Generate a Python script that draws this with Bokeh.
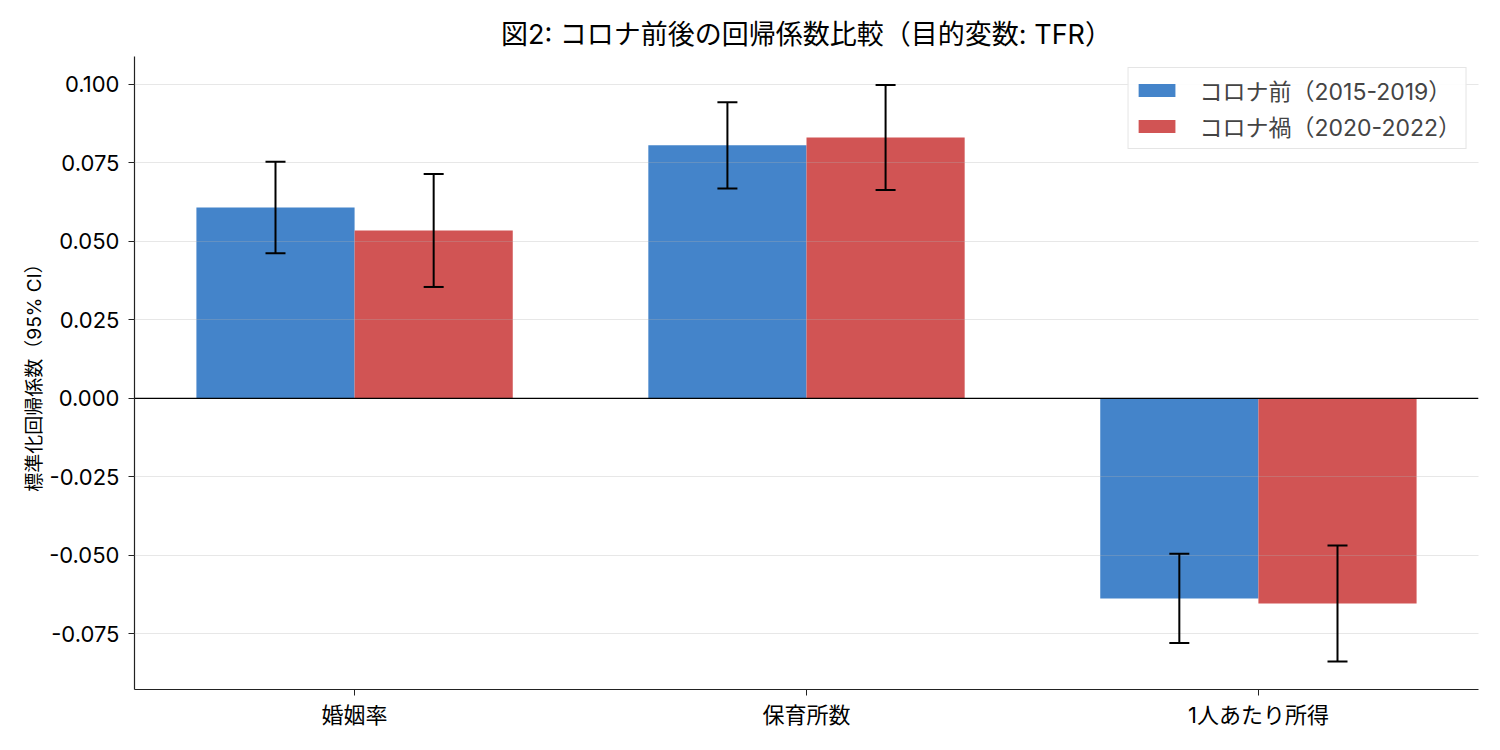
import numpy as np
from bokeh.plotting import figure
from bokeh import models
from bokeh.models import Range1d
from bokeh.embed import file_html
from bokeh.resources import INLINE

# Latin glyphs from Inter, Japanese glyphs fall back to Noto Sans CJK JP.
FONT = "Inter, 'Noto Sans CJK JP'"

# Variables (x categories) and the two periods.
CATEGORIES = ["婚姻率", "保育所数", "1人あたり所得"]
PERIODS = ["コロナ前（2015-2019）", "コロナ禍（2020-2022）"]
COLORS = ["#4484CA", "#D15454"]

# Standardised coefficients and 95% CI half widths.
COEF_PRE = [0.0608, 0.0806, -0.0637]
CI_PRE = [0.0146, 0.0137, 0.0142]
COEF_COVID = [0.0535, 0.0831, -0.0653]
CI_COVID = [0.0180, 0.0167, 0.0185]

Y_TICKS = [-0.075, -0.050, -0.025, 0.0, 0.025, 0.050, 0.075, 0.100]

BAR_WIDTH = 0.35

p = figure(
    width=1492, height=742,
    title="図2: コロナ前後の回帰係数比較（目的変数: TFR）",
    x_range=Range1d(-0.487, 2.487), y_range=Range1d(-0.0927, 0.1089),
    y_axis_label="標準化回帰係数（95% CI）",
    output_backend="svg", toolbar_location=None,
    min_border_left=134, min_border_right=14,
    min_border_top=56, min_border_bottom=53,
)
p.outline_line_color = None
p.background_fill_color = "white"

p.title.align = "center"
p.title.text_font = FONT
p.title.text_font_size = "27px"
p.title.text_font_style = "normal"
p.title.text_color = "black"
p.title.standoff = 12

idx = np.arange(len(CATEGORIES))
series = [(COEF_PRE, CI_PRE, -BAR_WIDTH / 2), (COEF_COVID, CI_COVID, BAR_WIDTH / 2)]
for (coef, ci, shift), label, color in zip(series, PERIODS, COLORS):
    coef = np.array(coef)
    ci = np.array(ci)
    source = models.ColumnDataSource(data={
        "x": idx + shift,
        "top": coef,
        "upper": coef + ci,
        "lower": coef - ci,
    })
    p.vbar(x="x", top="top", bottom=0, width=BAR_WIDTH, source=source,
           fill_color=color, line_color=None, legend_label=label)
    p.add_layout(models.Whisker(
        source=source, base="x", upper="upper", lower="lower",
        line_color="black", line_width=2, level="annotation",
        upper_head=models.TeeHead(size=20, line_color="black", line_width=2),
        lower_head=models.TeeHead(size=20, line_color="black", line_width=2),
    ))

p.add_layout(models.Span(location=0, dimension="width",
                         line_color="black", line_width=1.3))

# Axes
p.xaxis.ticker = models.FixedTicker(ticks=list(idx))
p.xaxis.major_label_overrides = {int(i): c for i, c in zip(idx, CATEGORIES)}
p.yaxis.ticker = models.FixedTicker(ticks=Y_TICKS)
p.yaxis.formatter = models.NumeralTickFormatter(format="0.000")
for ax in (p.xaxis, p.yaxis):
    ax.axis_line_color = "#222222"
    ax.axis_line_width = 1.2
    ax.major_tick_line_color = "#222222"
    ax.major_tick_out = 6
    ax.major_tick_in = 0
    ax.minor_tick_line_color = None
    ax.major_label_text_font = FONT
    ax.major_label_text_font_size = "22px"
    ax.major_label_text_color = "black"
    ax.axis_label_text_font = FONT
    ax.axis_label_text_font_size = "19px"
    ax.axis_label_text_font_style = "normal"
    ax.axis_label_text_color = "black"
p.yaxis.axis_label_standoff = 0
p.yaxis.major_label_standoff = 9
p.xaxis.major_label_standoff = 6

p.xgrid.grid_line_color = None
p.ygrid.ticker = models.FixedTicker(ticks=Y_TICKS)
p.ygrid.grid_line_color = "#b0b0b0"
p.ygrid.grid_line_alpha = 0.3
p.ygrid.level = "guide"

p.legend.location = "top_right"
p.legend.margin = 11
p.legend.padding = 5
p.legend.spacing = 2
p.legend.label_height = 28
p.legend.glyph_width = 46
p.legend.glyph_height = 16
p.legend.label_standoff = 20
p.legend.label_text_font = FONT
p.legend.label_text_font_size = "23px"
p.legend.border_line_color = "#cccccc"
p.legend.border_line_width = 1.2
p.legend.background_fill_alpha = 0.9

open("out.html", "w").write(file_html(p, INLINE))
